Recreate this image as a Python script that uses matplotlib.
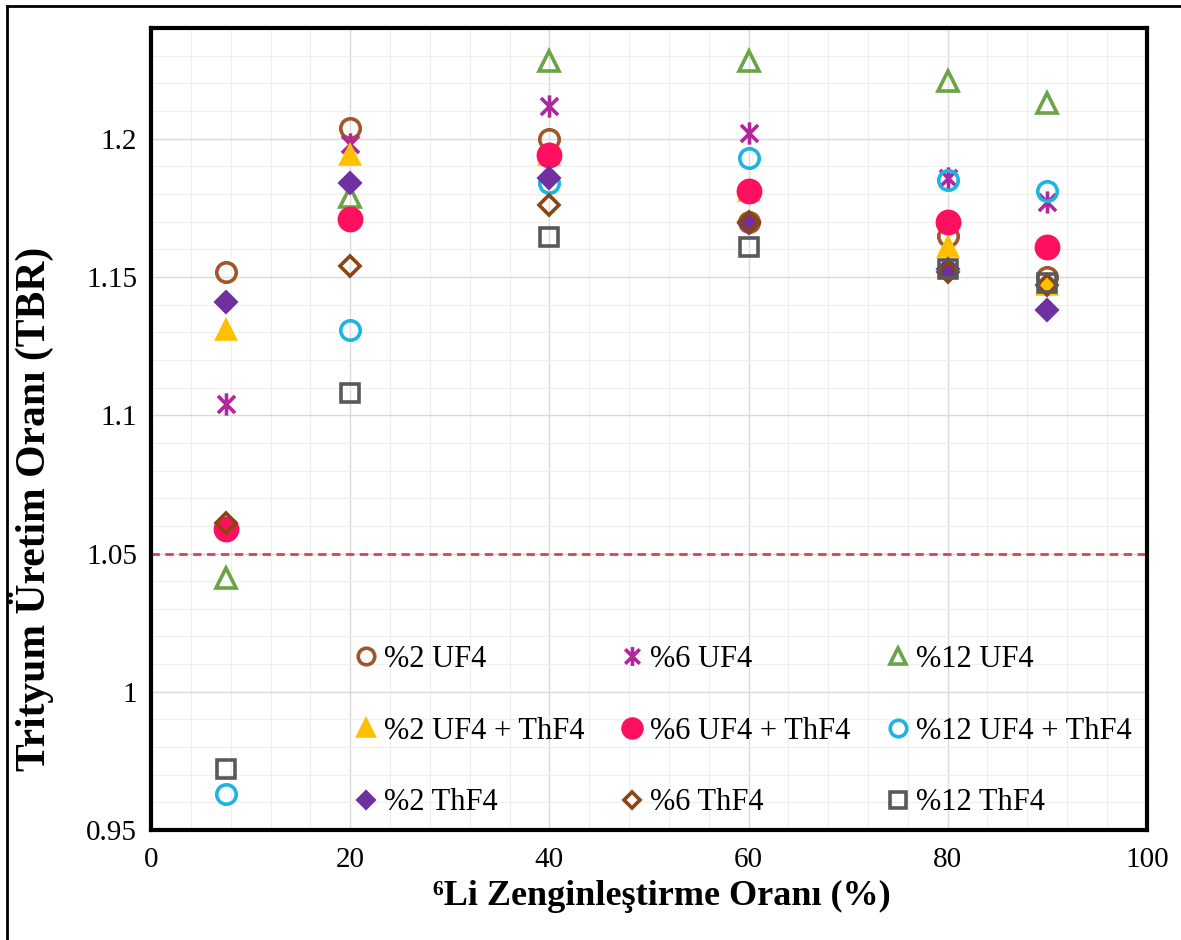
import numpy as np
import matplotlib
matplotlib.use("Agg")
import matplotlib.pyplot as plt
from matplotlib.path import Path
from matplotlib.lines import Line2D
from matplotlib.ticker import MultipleLocator, FuncFormatter

plt.rcParams['font.family'] = ['Liberation Serif', 'DejaVu Serif']

# Li-6 enrichment (%)
li6 = [7.5, 20, 40, 60, 80, 90]

# TBR values per fuel case
uf4_2 = [1.152, 1.204, 1.200, 1.170, 1.165, 1.150]
uf4_6 = [1.104, 1.198, 1.212, 1.202, 1.186, 1.177]
uf4_12 = [1.041, 1.179, 1.228, 1.228, 1.221, 1.213]
mix_2 = [1.131, 1.194, 1.194, 1.181, 1.161, 1.147]
mix_6 = [1.059, 1.171, 1.194, 1.181, 1.170, 1.161]
mix_12 = [0.963, 1.131, 1.184, 1.193, 1.185, 1.181]
th_2 = [1.141, 1.184, 1.186, 1.1695, 1.153, 1.138]
th_6 = [1.061, 1.154, 1.176, 1.170, 1.152, 1.147]
th_12 = [0.972, 1.108, 1.1645, 1.161, 1.153, 1.148]

tbr_limit = 1.05

# star marker like the spreadsheet one (x with a vertical bar)
star = Path([(-1, -1), (1, 1), (-1, 1), (1, -1), (0, -1.3), (0, 1.3)],
            [Path.MOVETO, Path.LINETO] * 3)

fig = plt.figure(figsize=(11.81, 9.40), dpi=100)
ax = fig.add_axes([0.128, 0.117, 0.843, 0.853])

# series: data, label, marker, size, face, edge
series = [
    (uf4_2, '%2 UF4', 'o', 14, 'none', '#A0552A'),
    (uf4_6, '%6 UF4', star, 16, 'none', '#B0279C'),
    (uf4_12, '%12 UF4', '^', 14, 'none', '#6AA444'),
    (mix_2, '%2 UF4 + ThF4', '^', 13, '#FFC000', '#FFC000'),
    (mix_6, '%6 UF4 + ThF4', 'o', 16, '#FF0F5F', '#FF0F5F'),
    (mix_12, '%12 UF4 + ThF4', 'o', 14, 'none', '#1FB4DF'),
    (th_2, '%2 ThF4', 'D', 10, '#7030A0', '#7030A0'),
    (th_6, '%6 ThF4', 'D', 10, 'none', '#8B4513'),
    (th_12, '%12 ThF4', 's', 13, 'none', '#595959'),
]

handles = []
for vals, lab, mk, ms, fc, ec in series:
    h, = ax.plot(li6, vals, linestyle='none', marker=mk, markersize=ms,
                 markerfacecolor=fc, markeredgecolor=ec, markeredgewidth=2.6,
                 label=lab, zorder=3)
    handles.append(h)

# TBR threshold line
ax.axhline(tbr_limit, color='#D9434B', linestyle=(0, (3, 2)), linewidth=2, zorder=2)

ax.set_xlim(0, 100)
ax.set_ylim(0.95, 1.24)
ax.xaxis.set_major_locator(MultipleLocator(20))
ax.xaxis.set_minor_locator(MultipleLocator(4))
ax.yaxis.set_major_locator(MultipleLocator(0.05))
ax.yaxis.set_minor_locator(MultipleLocator(0.01))
ax.yaxis.set_major_formatter(FuncFormatter(lambda v, p: '%g' % round(v, 2)))

ax.grid(True, which='major', color='#dadada', linewidth=1.0)
ax.grid(True, which='minor', color='#efefef', linewidth=0.8)
ax.set_axisbelow(True)

ax.tick_params(which='both', length=0)
ax.tick_params(axis='y', labelsize=21, pad=10)
ax.tick_params(axis='x', labelsize=21, pad=12)
for s in ax.spines.values():
    s.set_linewidth(3)
    s.set_color('black')

ax.set_xlabel('⁶Li Zenginleştirme Oranı (%)', fontsize=26, fontweight='bold')
ax.xaxis.set_label_coords(0.513, -0.062)
ax.set_ylabel('Trityum Üretim Oranı (TBR)', fontsize=30, fontweight='bold')
ax.yaxis.set_label_coords(-0.098, 0.40)

# legend filled row by row: 3 columns
order = [0, 3, 6, 1, 4, 7, 2, 5, 8]
ax.legend([handles[i] for i in order], [series[i][1] for i in order],
          ncol=3, loc='lower left', bbox_to_anchor=(0.18, -0.011), frameon=False,
          fontsize=22, handlelength=0.9, handletextpad=0.15, labelspacing=1.4,
          columnspacing=1.1, borderpad=0.2, markerscale=0.85)

# outer border of the picture (left and top edges)
fig.add_artist(Line2D([0.006, 0.006], [0.0, 0.994], color='black', linewidth=2))
fig.add_artist(Line2D([0.006, 1.0], [0.994, 0.994], color='black', linewidth=2))

plt.savefig('out.png', dpi=100)
